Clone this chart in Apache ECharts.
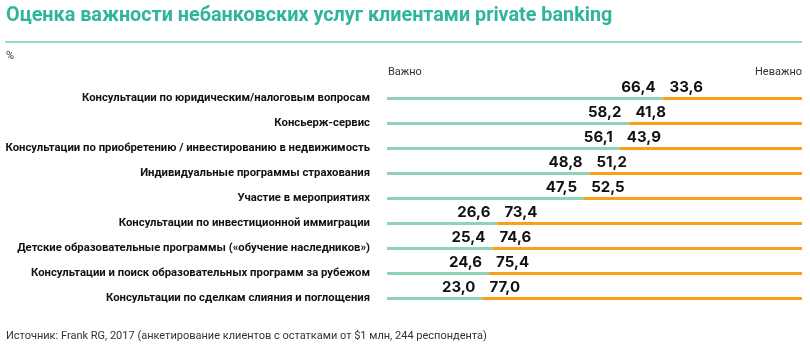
<!DOCTYPE html>
<html><head><meta charset="utf-8">
<script src="https://cdn.jsdelivr.net/npm/echarts@6/dist/echarts.min.js"></script>
<style>html,body{margin:0;padding:0;background:#fff}#c{width:810px;height:350px}</style>
</head><body><div id="c"></div>
<script>
var categories = [
  "Консультации по юридическим/налоговым вопросам",
  "Консьерж-сервис",
  "Консультации по приобретению / инвестированию в недвижимость",
  "Индивидуальные программы страхования",
  "Участие в мероприятиях",
  "Консультации по инвестиционной иммиграции",
  "Детские образовательные программы («обучение наследников»)",
  "Консультации и поиск образовательных программ за рубежом",
  "Консультации по сделкам слияния и поглощения"
];
var important = [66.4, 58.2, 56.1, 48.8, 47.5, 26.6, 25.4, 24.6, 23.0];
var notImportant = [33.6, 41.8, 43.9, 51.2, 52.5, 73.4, 74.6, 75.4, 77.0];
var seriesNames = ["Важно", "Неважно"];

var FONT = "Roboto";
var NUMFONT = "Inter";
var fmt = function(p){ return p.value.toFixed(1).replace('.', ','); };
var chart = echarts.init(document.getElementById('c'));
chart.setOption({
  animation: false,
  textStyle: {fontFamily: FONT},
  graphic: [
    {type:'text', left: 6, top: 6, style:{text:'Оценка важности небанковских услуг клиентами private banking', fill:'#2fb59b', font:'bold 19.8px ' + FONT}},
    {type:'rect', shape:{x:5, y:41, width:797, height:2}, style:{fill:'#92dccd'}},
    {type:'text', left: 6, top: 51, style:{text:'%', fill:'#333', font:'11px ' + FONT}},
    {type:'text', left: 388, top: 67, style:{text:seriesNames[0], fill:'#333', font:'11px ' + FONT}},
    {type:'text', right: 8, top: 67, style:{text:seriesNames[1], fill:'#333', font:'11px ' + FONT, align:'right'}},
    {type:'text', left: 6, top: 331, style:{text:'Источник: Frank RG, 2017 (анкетирование клиентов с остатками от $1 млн, 244 респондента)', fill:'#333', font:'11px ' + FONT}}
  ],
  grid: {left: 387, right: 8, top: 86, height: 225, containLabel: false},
  xAxis: {type:'value', min:0, max:100, show:false},
  yAxis: {
    type:'category', data: categories, inverse: true,
    axisLine:{show:false}, axisTick:{show:false},
    axisLabel:{margin:17, color:'#111', fontWeight:'bold', fontSize:11.3, fontFamily: FONT}
  },
  series: [
    {name: seriesNames[0], type:'bar', stack:'a', data: important, barWidth: 3,
     itemStyle:{color:'#8fd3b3'},
     label:{show:true, position:['100%', 0], align:'right', verticalAlign:'bottom', offset:[-7,-2],
            formatter: fmt, color:'#111', fontWeight:'bold', fontSize:15, fontFamily: NUMFONT}},
    {name: seriesNames[1], type:'bar', stack:'a', data: notImportant, barWidth: 3,
     itemStyle:{color:'#f9a01b'},
     label:{show:true, position:[0, 0], align:'left', verticalAlign:'bottom', offset:[7,-2],
            formatter: fmt, color:'#111', fontWeight:'bold', fontSize:15, fontFamily: NUMFONT}}
  ]
});
</script></body></html>
